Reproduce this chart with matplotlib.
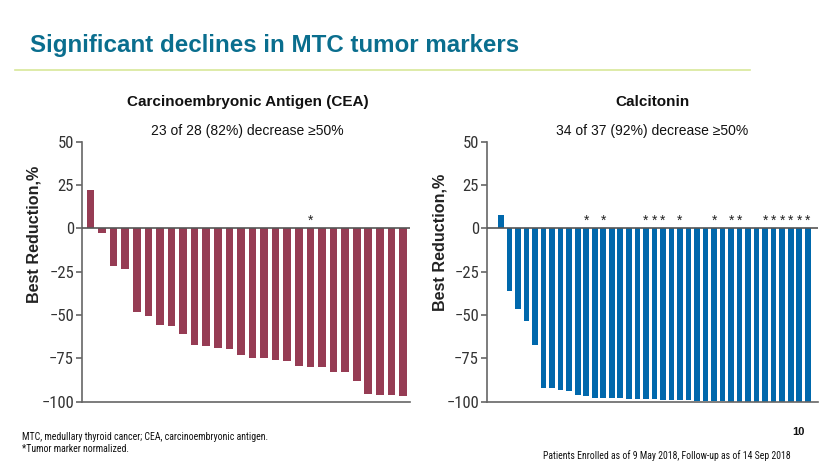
import matplotlib
matplotlib.use("Agg")
import matplotlib.pyplot as plt
from matplotlib import font_manager

names = {f.name for f in font_manager.fontManager.ttflist}
NARROW = "Roboto Condensed" if "Roboto Condensed" in names else "Liberation Sans"
REG = "Liberation Sans"

cea_values = [22, -2.5, -21.8, -23.3, -48, -50.3, -55.9, -56.5, -60.7, -67.2, -67.8, -69.2,
              -69.4, -72.8, -74.6, -74.8, -76.1, -76.3, -79.6, -79.8, -80.2, -82.7, -82.9,
              -88, -95.8, -96, -96.3, -96.5]
cea_starred = [19]

calc_values = [7.5, -36.4, -46.7, -53.4, -67, -92, -92.3, -93.3, -93.9, -96.2, -96.7, -97.9,
               -97.9, -98.1, -98.1, -98.3, -98.5, -98.6, -98.6, -98.8, -99, -99, -99.2,
               -99.4, -99.6, -99.8, -99.8, -100, -100, -100, -100, -100, -100, -100, -100,
               -100, -100]
calc_starred = [10, 12, 17, 18, 19, 21, 25, 27, 28, 31, 32, 33, 34, 35, 36]

yticks = [50, 25, 0, -25, -50, -75, -100]
ytick_labels = ["50", "25", "0", "\u221225", "\u221250", "\u221275", "\u2212100"]

panels = [
    dict(values=cea_values, starred=cea_starred, color="#963C54",
         title="Carcinoembryonic Antigen (CEA)", sub="23 of 28 (82%) decrease \u226550%",
         rect=[0.0984, 0.1398, 0.3955, 0.5568], xlim=(-0.76, 27.6), tx=0.298,
         ylx=0.041, yly=0.499),
    dict(values=calc_values, starred=calc_starred, color="#0068AC",
         title="Calcitonin", sub="34 of 37 (92%) decrease \u226550%",
         rect=[0.5864, 0.1398, 0.3991, 0.5568], xlim=(-1.68, 37.2), tx=0.786,
         ylx=0.530, yly=0.480),
]

fig = plt.figure(figsize=(8.3, 4.67), dpi=100)
fig.patch.set_facecolor("white")

fig.text(0.036, 0.903, "Significant declines in MTC tumor markers", fontsize=17.4,
         fontweight="bold", color="#0A6E8E", family=REG, va="center", ha="left")
fig.add_artist(plt.Line2D([0.018, 0.904], [0.850, 0.850], color="#D8E89A", lw=1.2,
                          transform=fig.transFigure))

for p in panels:
    ax = fig.add_axes(p["rect"])
    x = list(range(len(p["values"])))
    ax.bar(x, p["values"], width=0.66, color=p["color"], edgecolor="none", zorder=2)
    for i in p["starred"]:
        ax.text(i, 4.5, "*", ha="center", va="center", fontsize=10, color="#222222",
                family=REG)
    ax.axhline(0, color="#555555", lw=1.2, zorder=3)
    ax.set_xlim(*p["xlim"])
    ax.set_ylim(-100, 50)
    ax.set_yticks(yticks)
    ax.set_yticklabels(ytick_labels, family=NARROW, fontsize=12, color="#333333")
    ax.set_xticks([])
    for s in ["top", "right"]:
        ax.spines[s].set_visible(False)
    for s in ["left", "bottom"]:
        ax.spines[s].set_color("#666666")
        ax.spines[s].set_linewidth(1.2)
    ax.tick_params(axis="y", length=4, width=1.2, color="#666666", pad=1.5)
    fig.text(p["tx"], 0.781, p["title"], ha="center", va="center", fontsize=11,
             fontweight="bold", family=REG, color="#111111")
    fig.text(p["tx"], 0.719, p["sub"], ha="center", va="center", fontsize=10,
             family=REG, color="#111111")
    fig.text(p["ylx"], p["yly"], "Best Reduction,%", rotation=90, ha="center",
             va="center", fontsize=11.6, fontweight="bold", family=REG, color="#222222")

fig.text(0.026, 0.064, "MTC, medullary thyroid cancer; CEA, carcinoembryonic antigen.",
         fontsize=7.1, family=NARROW, color="#111111", va="center")
fig.text(0.026, 0.038, "*Tumor marker normalized.", fontsize=7.1, family=NARROW,
         color="#111111", va="center")
fig.text(0.970, 0.075, "10", fontsize=8, fontweight="bold", family=REG, ha="right",
         va="center", color="#111111")
fig.text(0.952, 0.025, "Patients Enrolled as of 9 May 2018, Follow-up as of 14 Sep 2018",
         fontsize=7, family=NARROW, ha="right", va="center", color="#111111")

fig.savefig("out.png", dpi=100, facecolor="white")
